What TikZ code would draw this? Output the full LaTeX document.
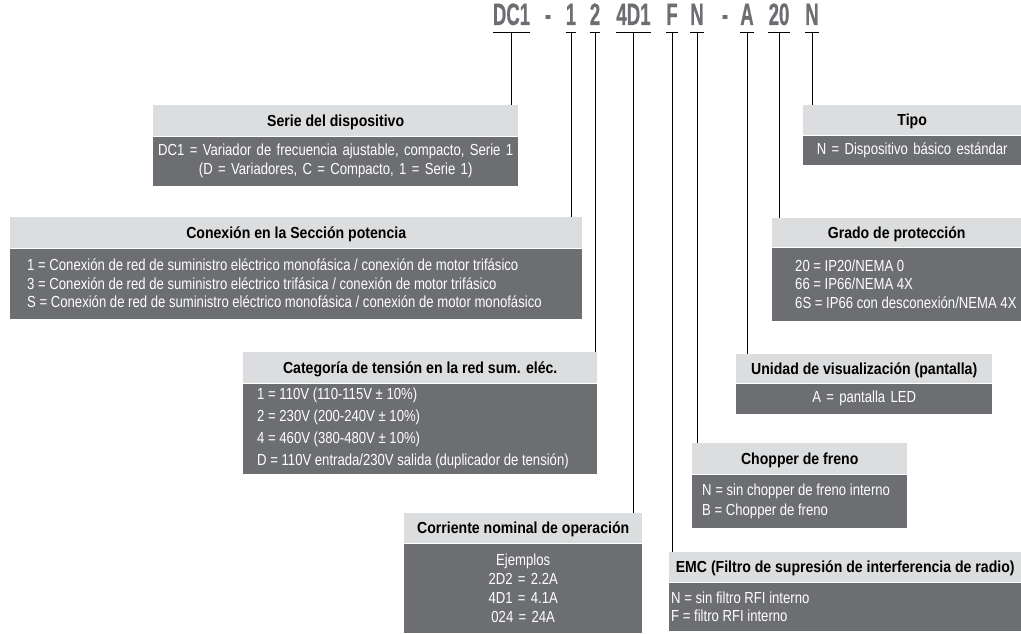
\documentclass[tikz,border=0pt]{standalone}
\usepackage{fontspec}
\setmainfont{Liberation Sans}
\newfontfamily\bodyfam{Liberation Sans}[FakeStretch=0.82]
\newfontfamily\titlefam{Liberation Sans}[FakeStretch=0.88]
\newfontfamily\codefam{Liberation Sans}[FakeStretch=0.6, FakeBold=0.5]
\definecolor{hdrgray}{HTML}{DCDDDE}
\definecolor{bodygray}{HTML}{6D6E71}
\definecolor{codegray}{HTML}{6D6E71}

\begin{document}
\begin{tikzpicture}[x=1pt, y=-1pt, line join=round,
    code/.style={font=\codefam\bfseries\fontsize{31}{33}\selectfont,
                 text=codegray, inner sep=0pt, text depth=0pt, anchor=base},
    hdr/.style={fill=hdrgray, font=\titlefam\bfseries\fontsize{16}{18}\selectfont,
                inner sep=0pt, minimum height=31pt, text height=11.5pt,
                text depth=0.5pt, anchor=north west},
    body/.style={fill=bodygray, inner sep=0pt, anchor=north},
    ctext/.style={text=white, font=\bodyfam\fontsize{16}{18.5}\selectfont,
                  align=center},
    btext/.style={text=white, font=\bodyfam\fontsize{16}{18.5}\selectfont,
                  inner sep=0pt, align=left, anchor=west},
    leader/.style={line width=1pt, black}]

  \useasboundingbox (0,0) rectangle (1021,634);

  %--- código de tipo ---
  \node[code] (cdc)    at (511.5,25) {DC1};
  \node[code] (cdasha) at (548,25)   {-};
  \node[code] (cone)   at (571,25)   {1};
  \node[code] (ctwo)   at (595,25)   {2};
  \node[code] (cfdo)   at (633.5,25) {4D1};
  \node[code] (cf)     at (672,25)   {F};
  \node[code] (cn)     at (697,25)   {N};
  \node[code] (cdashb) at (725,25)   {-};
  \node[code] (ca)     at (747,25)   {A};
  \node[code] (ctw)    at (779,25)   {20};
  \node[code] (ct)     at (812,25)   {N};

  % subrayados
  \foreach \n in {cdc,cone,ctwo,cfdo,cf,cn,ca,ctw,ct}
    \draw[leader] ([yshift=-8pt]\n.base west) -- ([yshift=-8pt]\n.base east);

  %--- Serie del dispositivo ---
  \node[hdr, minimum width=365pt] (serieH) at (153,105) {Serie del dispositivo};
  \node[body, ctext, minimum width=365pt, minimum height=49pt, text width=365pt]
      (serieB) at (serieH.south)
      {DC1 = Variador de frecuencia ajustable, compacto, Serie 1\\
       (D = Variadores, C = Compacto, 1 = Serie 1)};

  %--- Conexión en la Sección potencia ---
  \node[hdr, minimum width=572pt] (conexH) at (10,217) {Conexión en la Sección potencia};
  \node[body, minimum width=572pt, minimum height=70pt] (conexB) at (conexH.south) {};
  \node[btext] (conexT) at ([xshift=17pt]conexB.west)
      {1 = Conexión de red de suministro eléctrico monofásica / conexión de motor trifásico\\
       3 = Conexión de red de suministro eléctrico trifásica / conexión de motor trifásico\\
       S = Conexión de red de suministro eléctrico monofásica / conexión de motor monofásico};

  %--- Categoría de tensión ---
  \node[hdr, minimum width=354pt] (tensH) at (243,352) {Categoría de tensión en la red sum. eléc.};
  \node[body, minimum width=354pt, minimum height=90pt] (tensB) at (tensH.south) {};
  \node[btext, font=\bodyfam\fontsize{16}{22}\selectfont] (tensT) at ([xshift=14pt]tensB.west)
      {1 = 110V (110-115V ± 10\%)\\
       2 = 230V (200-240V ± 10\%)\\
       4 = 460V (380-480V ± 10\%)\\
       D = 110V entrada/230V salida (duplicador de tensión)};

  %--- Corriente nominal ---
  \node[hdr, minimum width=238pt, minimum height=30pt] (corrH) at (404,513) {Corriente nominal de operación};
  \node[body, ctext, font=\bodyfam\fontsize{16}{19}\selectfont,
        minimum width=238pt, minimum height=89pt, text width=238pt]
      (corrB) at (corrH.south)
      {Ejemplos\\ 2D2 = 2.2A\\ 4D1 = 4.1A\\ 024 = 24A};

  %--- Tipo ---
  \node[hdr, minimum width=218pt, minimum height=30pt] (tipoH) at (803,105) {Tipo};
  \node[body, ctext, minimum width=218pt, minimum height=29pt, text width=218pt]
      (tipoB) at (tipoH.south) {N = Dispositivo básico estándar};

  %--- Grado de protección ---
  \node[hdr, minimum width=249pt, minimum height=29pt] (gradoH) at (772,218) {Grado de protección};
  \node[body, minimum width=249pt, minimum height=73pt] (gradoB) at (gradoH.south) {};
  \node[btext] (gradoT) at ([xshift=23pt]gradoB.west)
      {20 = IP20/NEMA 0\\
       66 = IP66/NEMA 4X\\
       6S = IP66 con desconexión/NEMA 4X};

  %--- Unidad de visualización ---
  \node[hdr, minimum width=256pt, minimum height=29pt] (pantH) at (736,354) {Unidad de visualización (pantalla)};
  \node[body, ctext, minimum width=256pt, minimum height=30pt, text width=256pt]
      (pantB) at (pantH.south) {A = pantalla LED};

  %--- Chopper de freno ---
  \node[hdr, minimum width=215pt] (chopH) at (692,443) {Chopper de freno};
  \node[body, minimum width=215pt, minimum height=53pt] (chopB) at (chopH.south) {};
  \node[btext, font=\bodyfam\fontsize{16}{20}\selectfont] (chopT) at ([xshift=10pt]chopB.west)
      {N = sin chopper de freno interno\\
       B = Chopper de freno};

  %--- EMC ---
  \node[hdr, minimum width=352pt, minimum height=30pt] (emcH) at (669,552) {EMC (Filtro de supresión de interferencia de radio)};
  \node[body, minimum width=352pt, minimum height=48pt] (emcB) at (emcH.south) {};
  \node[btext] (emcT) at ([xshift=2pt]emcB.west)
      {N = sin filtro RFI interno\\
       F = filtro RFI interno};

  %--- líneas de referencia ---
  \draw[leader] ([yshift=-8pt]cdc.base)  -- (cdc.base  |- serieH.north);
  \draw[leader] ([yshift=-8pt]cone.base) -- (cone.base |- conexH.north);
  \draw[leader] ([yshift=-8pt]ctwo.base) -- (ctwo.base |- tensH.north);
  \draw[leader] ([yshift=-8pt]cfdo.base) -- (cfdo.base |- corrH.north);
  \draw[leader] ([yshift=-8pt]cf.base)   -- (cf.base   |- emcH.north);
  \draw[leader] ([yshift=-8pt]cn.base)   -- (cn.base   |- chopH.north);
  \draw[leader] ([yshift=-8pt]ca.base)   -- (ca.base   |- pantH.north);
  \draw[leader] ([yshift=-8pt]ctw.base)  -- (ctw.base  |- gradoH.north);
  \draw[leader] ([yshift=-8pt]ct.base)   -- (ct.base   |- tipoH.north);

\end{tikzpicture}
\end{document}
